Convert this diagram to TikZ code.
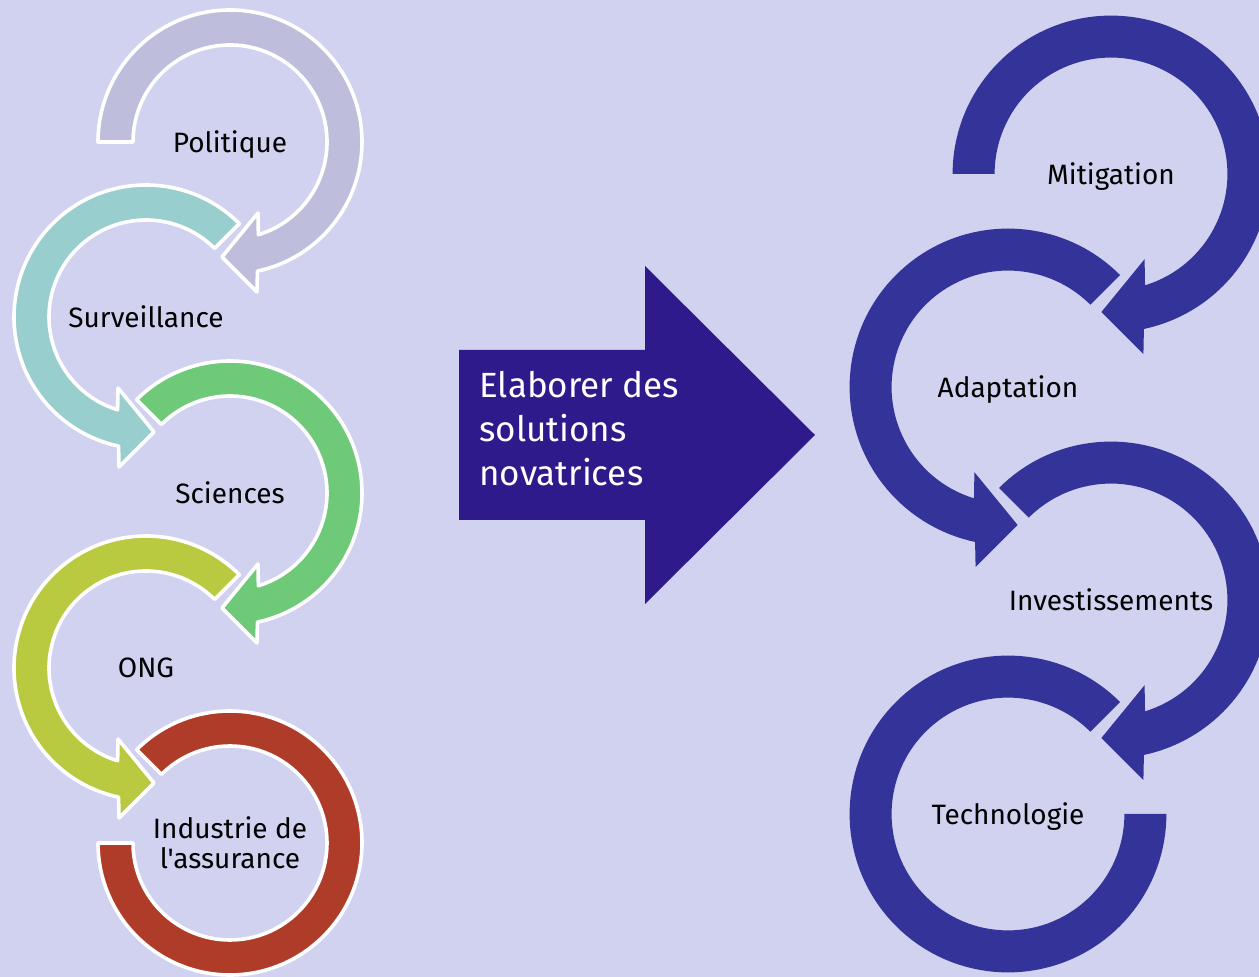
\documentclass[tikz,border=0pt]{standalone}
\usepackage{fontspec}
\setmainfont{Fira Sans}[Ligatures=TeXOff]
\usetikzlibrary{positioning}

\definecolor{fond}{HTML}{D1D2EF}
\definecolor{col_politique}{HTML}{BEBDDB}
\definecolor{col_surveillance}{HTML}{99CECE}
\definecolor{col_sciences}{HTML}{6EC978}
\definecolor{col_ong}{HTML}{BACA40}
\definecolor{col_industrie}{HTML}{AF3C28}
\definecolor{col_anneau}{HTML}{343399}
\definecolor{col_fleche}{HTML}{2E1A8B}

\begin{document}
\begin{tikzpicture}[
		x=0.5pt, y=0.5pt,
		font=\fontsize{14}{15}\selectfont,
		% --- STYLES DES ANNEAUX ---
		ring_left/.style = {draw=white, line width=1.8pt, line join=round},
		ring_right/.style = {fill=col_anneau},
		% --- STYLES DES TEXTES ---
		ring_label/.style = {align=center, text=black, inner sep=0pt, text depth=0pt},
		arrow_label/.style = {align=left, text=white, inner sep=0pt, anchor=west, font=\fontsize{17.5}{22}\selectfont}
		]
		
		% =========================================================================
		% 0. FOND ET CADRE
		% =========================================================================
		\fill[fond] (0,0) rectangle (1259,-977);
		\useasboundingbox (0,0) rectangle (1259,-977);
		\clip (0,0) rectangle (1259,-977);
		
		% =========================================================================
		% 1. TEXTES DES ANNEAUX
		% =========================================================================
		% Colonne gauche
		\node [ring_label] (politique) at (230,-142) {Politique};
		\node [ring_label] (surveillance) at (146,-317) {Surveillance};
		\node [ring_label] (sciences) at (230,-493) {Sciences};
		\node [ring_label] (ong) at (146,-668) {ONG};
		\node [ring_label] (industrie) at (230,-843) {Industrie de\\l'assurance};
		
		% Colonne droite
		\node [ring_label] (mitigation) at (1111,-174) {Mitigation};
		\node [ring_label] (adaptation) at (1008,-387) {Adaptation};
		\node [ring_label] (investissements) at (1111,-600) {Investissements};
		\node [ring_label] (technologie) at (1008,-814) {Technologie};
		
		% =========================================================================
		% 2. ANNEAUX DE GAUCHE (contour blanc)
		% =========================================================================
		\filldraw [ring_left, fill=col_politique, shift={(politique)}]
		(180:132) arc[start angle=180, end angle=-78, radius=132]
		-- (27,-150) -- (-8,-115) -- (28,-71)
		-- (-73:97) arc[start angle=-73, end angle=180, radius=97] -- cycle;
		
		\filldraw [ring_left, fill=col_surveillance, shift={(surveillance)}]
		(45:132) arc[start angle=45, end angle=258, radius=132]
		-- (-27,-150) -- (8,-115) -- (-28,-71)
		-- (253:97) arc[start angle=253, end angle=45, radius=97] -- cycle;
		
		\filldraw [ring_left, fill=col_sciences, shift={(sciences)}]
		(135:132) arc[start angle=135, end angle=-78, radius=132]
		-- (27,-150) -- (-8,-115) -- (28,-71)
		-- (-73:97) arc[start angle=-73, end angle=135, radius=97] -- cycle;
		
		\filldraw [ring_left, fill=col_ong, shift={(ong)}]
		(45:132) arc[start angle=45, end angle=258, radius=132]
		-- (-27,-150) -- (8,-115) -- (-28,-71)
		-- (253:97) arc[start angle=253, end angle=45, radius=97] -- cycle;
		
		% Dernier anneau sans pointe
		\filldraw [ring_left, fill=col_industrie, shift={(industrie)}]
		(135:132) arc[start angle=135, end angle=-180, radius=132]
		-- (-180:97) arc[start angle=-180, end angle=135, radius=97] -- cycle;
		
		% =========================================================================
		% 3. FLECHE CENTRALE
		% =========================================================================
		\fill [col_fleche] (459,-350) -- (645,-350) -- (645,-266) -- (815,-435)
		-- (645,-604) -- (645,-520) -- (459,-520) -- cycle;
		\node [arrow_label] (solutions) at (479,-429) {Elaborer des\\solutions\\novatrices};
		
		% =========================================================================
		% 4. ANNEAUX DE DROITE (meme forme, agrandie)
		% =========================================================================
		\fill [ring_right, shift={(mitigation)}, scale=1.2]
		(180:132) arc[start angle=180, end angle=-78, radius=132]
		-- (27,-150) -- (-8,-115) -- (28,-71)
		-- (-73:97) arc[start angle=-73, end angle=180, radius=97] -- cycle;
		
		\fill [ring_right, shift={(adaptation)}, scale=1.2]
		(45:132) arc[start angle=45, end angle=258, radius=132]
		-- (-27,-150) -- (8,-115) -- (-28,-71)
		-- (253:97) arc[start angle=253, end angle=45, radius=97] -- cycle;
		
		\fill [ring_right, shift={(investissements)}, scale=1.2]
		(135:132) arc[start angle=135, end angle=-78, radius=132]
		-- (27,-150) -- (-8,-115) -- (28,-71)
		-- (-73:97) arc[start angle=-73, end angle=135, radius=97] -- cycle;
		
		% Dernier anneau sans pointe
		\fill [ring_right, shift={(technologie)}, scale=1.2]
		(45:132) arc[start angle=45, end angle=360, radius=132]
		-- (0:97) arc[start angle=360, end angle=45, radius=97] -- cycle;
		
	\end{tikzpicture}
\end{document}
